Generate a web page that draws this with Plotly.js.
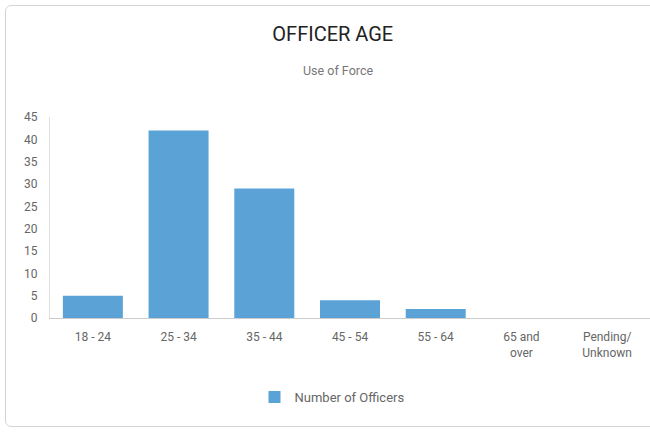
<!DOCTYPE html>
<html><head><meta charset="utf-8">
<script src="https://cdn.plot.ly/plotly-3.0.1.min.js"></script>
<style>
html,body{margin:0;padding:0;background:#fff;}
#wrap{position:relative;width:650px;height:432px;}
#card{position:absolute;left:5px;top:5px;width:660px;height:422px;border:1px solid #d4d4d4;border-radius:6px;pointer-events:none;box-sizing:border-box;}
</style></head>
<body><div id="wrap"><div id="chart" style="width:650px;height:432px;"></div><div id="card"></div></div>
<script>
const categories = ["18 - 24","25 - 34","35 - 44","45 - 54","55 - 64","65 and<br>over","Pending/<br>Unknown"];
const officers = [5, 42, 29, 4, 2, 0, 0];
const seriesName = "Number of Officers";
const yTicks = [0,5,10,15,20,25,30,35,40,45];

Plotly.newPlot('chart', [{
  type:'bar', x:categories, y:officers, name:seriesName,
  marker:{color:'#5ba3d7'}, showlegend:true, hoverinfo:'none'
}], {
  width:650, height:432,
  margin:{l:50, r:0, t:117, b:114},
  paper_bgcolor:'rgba(0,0,0,0)', plot_bgcolor:'rgba(0,0,0,0)',
  font:{family:'Roboto, sans-serif', color:'#666', size:12},
  title:{text:'OFFICER AGE', x:0.512, xanchor:'center', y:1-34/432, yanchor:'middle', yref:'container',
         font:{family:'Roboto, sans-serif', size:20, color:'#222'}},
  annotations:[{text:'Use of Force', xref:'paper', yref:'paper', x:0.48, y:(318-70)/201, xanchor:'center', yanchor:'middle', showarrow:false, font:{size:12.5, color:'#777'}}],
  bargap:0.3,
  xaxis:{showline:true, linecolor:'#ccc', linewidth:1, ticks:'', showgrid:false, zeroline:false, ticklabelstandoff:8, tickfont:{size:12,color:'#666'}},
  yaxis:{range:[0,45], tickvals:yTicks, showline:true, linecolor:'#e0e0e0', linewidth:1, showgrid:false, zeroline:false, ticks:'', ticklabelstandoff:9, tickfont:{size:12,color:'#666'}},
  legend:{orientation:'h', x:0.47, xanchor:'center', y:(318-397)/201, yanchor:'middle', font:{size:13,color:'#666'}},
}, {staticPlot:true});
</script></body></html>
